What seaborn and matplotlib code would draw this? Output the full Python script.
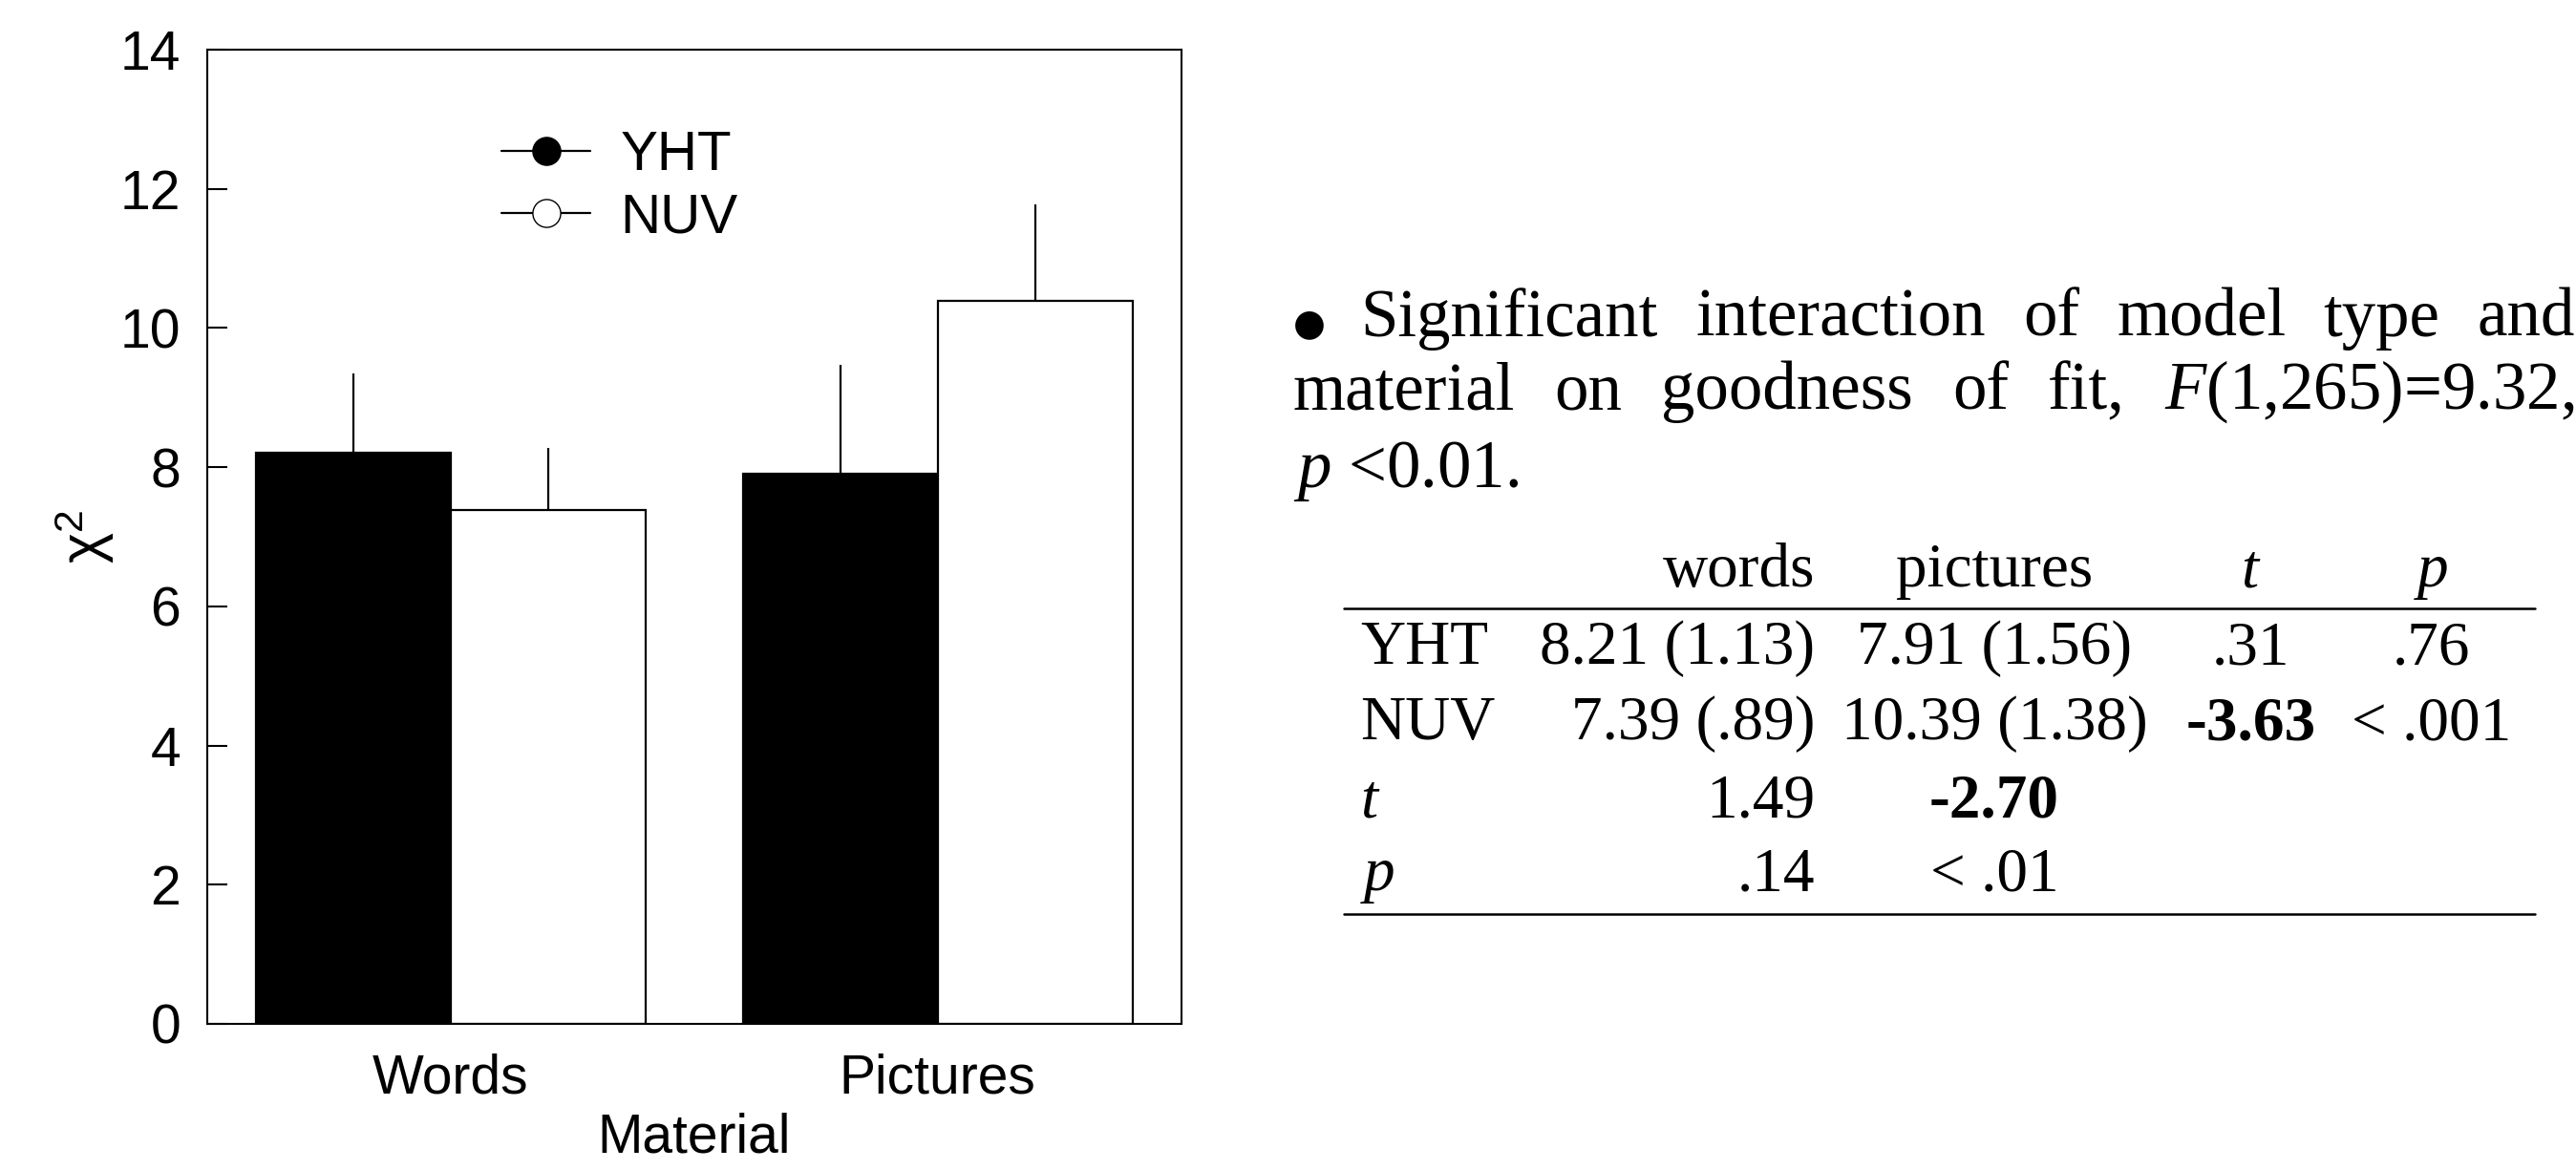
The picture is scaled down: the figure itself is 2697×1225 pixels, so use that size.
import pandas as pd
import matplotlib
matplotlib.use('Agg')
import matplotlib.pyplot as plt
import seaborn as sns
from matplotlib.lines import Line2D

materials = ['Words', 'Pictures']
models = ['YHT', 'NUV']
yht_means = [8.21, 7.91]
nuv_means = [7.39, 10.39]
yht_sd = [1.13, 1.56]
nuv_sd = [0.89, 1.38]

df = pd.DataFrame({
    'Material': materials * 2,
    'model': ['YHT'] * 2 + ['NUV'] * 2,
    'chi2': yht_means + nuv_means,
    'sd': yht_sd + nuv_sd,
})

sns.set_style('ticks', {'axes.edgecolor': 'black', 'text.color': 'black',
                        'axes.labelcolor': 'black', 'xtick.color': 'black',
                        'ytick.color': 'black'})
plt.rcParams['font.family'] = ['Liberation Sans', 'DejaVu Sans']
plt.rcParams['mathtext.fontset'] = 'custom'
plt.rcParams['mathtext.rm'] = 'Liberation Serif'
plt.rcParams['mathtext.it'] = 'Liberation Serif:italic'
plt.rcParams['mathtext.bf'] = 'Liberation Serif:bold'
plt.rcParams['mathtext.sf'] = 'Liberation Sans'

fig = plt.figure(figsize=(26.97, 12.25), dpi=100)
ax = fig.add_axes([0.0805, 0.1249, 0.378, 0.8327])

sns.barplot(data=df, x='Material', y='chi2', hue='model', hue_order=models,
            palette={'YHT': 'black', 'NUV': 'white'}, edgecolor='black',
            linewidth=1.6, width=0.8, errorbar=None, legend=False, ax=ax)

# upward-only error bars, centred on each bar
for cont, model in zip(ax.containers, models):
    sub = df[df['model'] == model].set_index('Material').loc[materials]
    xs = [p.get_x() + p.get_width() / 2 for p in cont.patches]
    ax.errorbar(xs, sub['chi2'], yerr=[[0] * len(xs), sub['sd']], fmt='none',
                ecolor='black', elinewidth=1.6, capsize=0, zorder=1)

ax.set_xlim(-0.5, 1.5)
ax.set_ylim(0, 14)
ax.set_yticks(range(0, 15, 2))
ax.tick_params(axis='y', direction='in', length=15, width=1.5, labelsize=41, pad=20)
ax.tick_params(axis='x', length=0, labelsize=41, pad=22)
for s in ax.spines.values():
    s.set_visible(True)
    s.set_linewidth(1.5)
ax.set_xlabel('Material', fontsize=41, labelpad=6)
ax.set_ylabel(r'χ$^\mathsf{2}$', fontsize=44, labelpad=3)

handles = [
    Line2D([], [], color='black', lw=1.6, marker='o', markersize=21,
           markerfacecolor='black', markeredgecolor='black'),
    Line2D([], [], color='black', lw=1.6, marker='o', markersize=21,
           markerfacecolor='white', markeredgecolor='black'),
]
ax.legend(handles, models, loc='upper left', bbox_to_anchor=(0.302, 0.9175),
          frameon=False, fontsize=42, handlelength=1.6, handletextpad=0.53,
          labelspacing=0.2, borderpad=0, borderaxespad=0)

# justified paragraph on the right
serif = 'Liberation Serif'
fs_par = 51
fs = 47
left, right = 0.502, 0.9995
renderer = fig.canvas.get_renderer()
lines = [
    (0.7127, ['Significant', 'interaction', 'of', 'model', 'type', 'and']),
    (0.6506, ['material', 'on', 'goodness', 'of', 'fit,', '$F$(1,265)=9.32,']),
]
bullet = fig.text(left, 0.7127 + 0.010, '●', fontsize=28, family='DejaVu Sans',
                  va='center', color='black')
bullet_w = bullet.get_window_extent(renderer).width / fig.bbox.width
for k, (y, words) in enumerate(lines):
    x0 = left + (bullet_w + 0.0137 if k == 0 else 0)
    texts = [fig.text(0, y, w, fontsize=fs_par, family=serif, va='baseline') for w in words]
    widths = [t.get_window_extent(renderer).width / fig.bbox.width for t in texts]
    gap = (right - x0 - sum(widths)) / (len(words) - 1)
    x = x0
    for t, w in zip(texts, widths):
        t.set_x(x)
        x += w + gap
fig.text(left, 0.5837, '$p$ <0.01.', fontsize=fs_par, family=serif, va='baseline')

# table
col_label = 0.528
col_words = 0.7047
col_pict = 0.7742
col_t = 0.8737
col_p = 0.9439
row_y = [0.4326, 0.3680, 0.3020, 0.2388]
header_y = 0.4986

row_labels = ['YHT', 'NUV', '$t$', '$p$']
words_col = ['8.21 (1.13)', '7.39 (.89)', '1.49', '.14']
pict_col = ['7.91 (1.56)', '10.39 (1.38)', '-2.70', '< .01']
t_col = ['.31', '-3.63', '', '']
p_col = ['.76', '< .001', '', '']
bold_vals = ['-2.70', '-3.63']


def cell(x, y, s, ha):
    fig.text(x, y, s, ha=ha, va='baseline', fontsize=fs, family=serif,
             fontweight='bold' if s in bold_vals else 'normal')


cell(col_words, header_y, 'words', 'right')
cell(col_pict, header_y, 'pictures', 'center')
cell(col_t, header_y, '$t$', 'center')
cell(col_p, header_y, '$p$', 'center')

for i, y in enumerate(row_y):
    cell(col_label, y, row_labels[i], 'left')
    cell(col_words, y, words_col[i], 'right')
    cell(col_pict, y, pict_col[i], 'center')
    cell(col_t, y, t_col[i], 'center')
    cell(col_p, y, p_col[i], 'center')

for y in [0.4803, 0.2191]:
    fig.add_artist(Line2D([0.5217, 0.9841], [y, y], color='black', lw=1.8,
                          transform=fig.transFigure))

fig.savefig('out.png', dpi=100)
